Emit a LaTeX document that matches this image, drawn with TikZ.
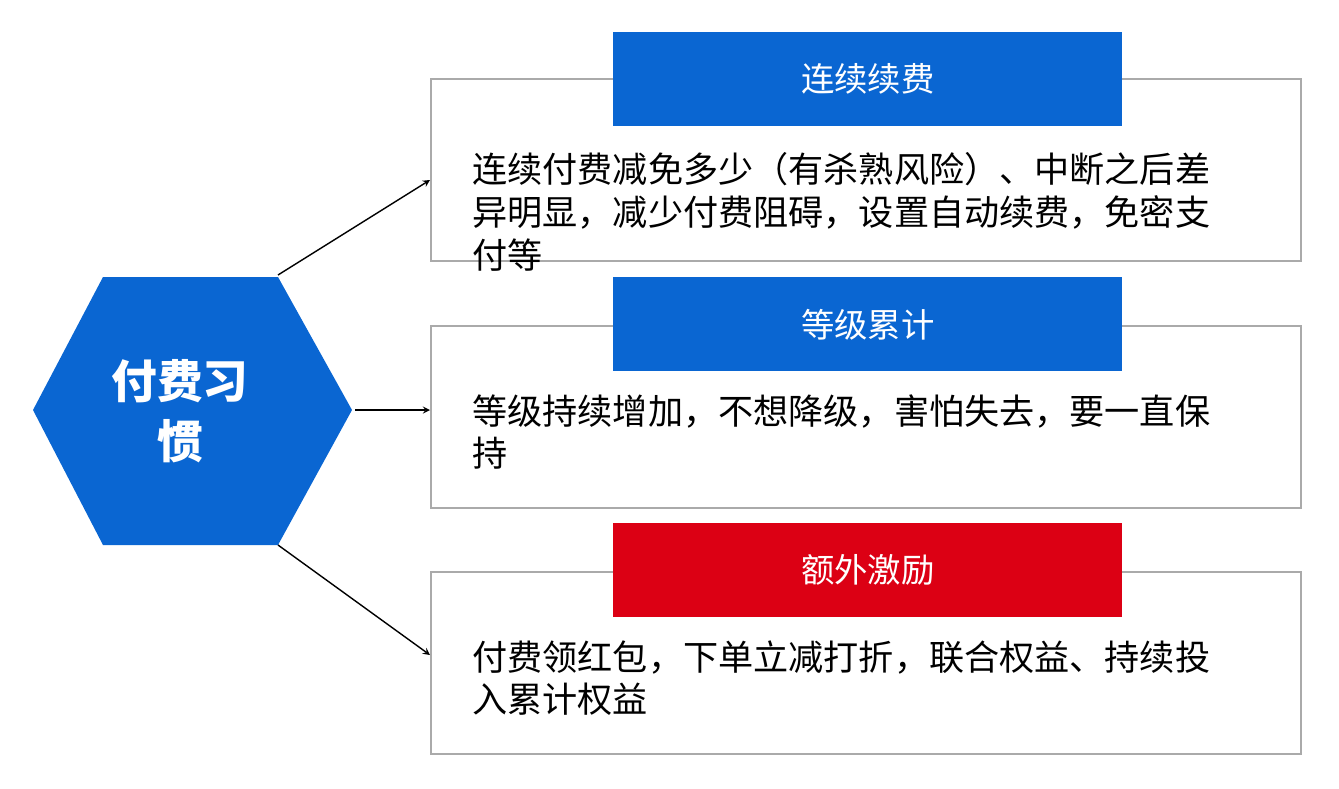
\documentclass[tikz,border=0pt]{standalone}
\usepackage{fontspec}
\setmainfont{Noto Sans CJK SC}
\usetikzlibrary{positioning}
\definecolor{hexblue}{RGB}{10,102,210}
\definecolor{headred}{RGB}{220,0,20}
\definecolor{boxgray}{RGB}{170,170,170}
\tikzstyle{panel} = [draw=boxgray, line width=1pt, minimum width=17.4cm, minimum height=3.64cm, anchor=north west]
\tikzstyle{head} = [minimum width=10.18cm, minimum height=1.88cm, text=white, font=\fontsize{19pt}{23pt}\selectfont, anchor=north west]
\tikzstyle{body} = [anchor=north west, align=left, inner sep=0pt, font=\fontsize{20pt}{24.4pt}\selectfont]
\tikzstyle{link} = [->, >=stealth, line width=0.8pt]
\begin{document}
\begin{tikzpicture}[x=0.02cm, y=-0.02cm]
  \useasboundingbox (0,0) rectangle (1339,788);
  % hexagon
  \fill[hexblue] (33,410) -- (103,277) -- (278,277) -- (352,410) -- (278,545) -- (103,545) -- cycle;
  \node[text=white, align=center, font=\bfseries\fontsize{26pt}{34pt}\selectfont] (habit) at (180,411) {付费习\\惯};
  \coordinate (hexne) at (278,275);
  \coordinate (hexe) at (355,410);
  \coordinate (hexse) at (278,545);

  \node[panel] (box1) at (430,78) {};
  \node[panel] (box2) at (430,325) {};
  \node[panel] (box3) at (430,571) {};

  \node[head, fill=hexblue] (head1) at (613,32) {连续续费};
  \node[head, fill=hexblue] (head2) at (613,277) {等级累计};
  \node[head, fill=headred] (head3) at (613,523) {额外激励};

  \node[body] (text1) at (472,152) {连续付费减免多少（有杀熟风险）、中断之后差\\异明显，减少付费阻碍，设置自动续费，免密支\\付等};
  \node[body] (text2) at (472,394) {等级持续增加，不想降级，害怕失去，要一直保\\持};
  \node[body] (text3) at (472,640) {付费领红包，下单立减打折，联合权益、持续投\\入累计权益};

  \draw[link] (hexne) -- (box1.west |- 0,180);
  \draw[link] (hexe) -- (box2.west |- 0,410);
  \draw[link] (hexse) -- (box3.west |- 0,655);
\end{tikzpicture}
\end{document}
